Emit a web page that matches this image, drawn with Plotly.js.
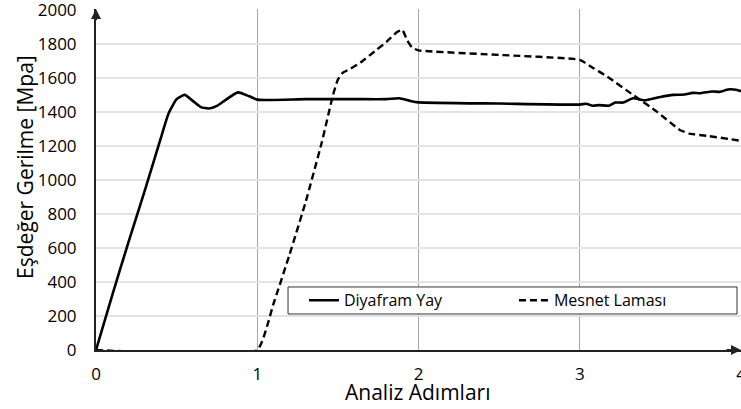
<!DOCTYPE html>
<html><head><meta charset="utf-8">
<script src="https://cdn.plot.ly/plotly-3.0.1.min.js"></script>
<style>html,body{margin:0;padding:0;background:#fff}#chart{width:741px;height:409px}</style>
</head><body><div id="chart"></div>
<script>
var diyX = [0, 0.1, 0.2, 0.3, 0.4, 0.45, 0.5, 0.55, 0.6, 0.65, 0.7, 0.75, 0.8, 0.88, 0.95, 1.0, 1.3, 1.6, 1.8, 1.88, 1.95, 2.0, 2.5, 3.0, 3.04, 3.08, 3.12, 3.18, 3.22, 3.27, 3.33, 3.4, 3.5, 3.58, 3.65, 3.7, 3.75, 3.82, 3.87, 3.92, 3.97, 4.0];
var diyY = [0, 320, 630, 930, 1240, 1390, 1475, 1500, 1465, 1428, 1420, 1435, 1468, 1515, 1492, 1472, 1475, 1475, 1475, 1480, 1464, 1456, 1449, 1443, 1448, 1436, 1440, 1436, 1455, 1455, 1480, 1468, 1488, 1500, 1502, 1512, 1510, 1520, 1518, 1532, 1530, 1522];
var mesX = [0, 1.0, 1.1, 1.2, 1.3, 1.4, 1.47, 1.5, 1.53, 1.58, 1.64, 1.74, 1.8, 1.865, 1.9, 1.93, 1.96, 2.0, 2.5, 3.0, 3.08, 3.17, 3.33, 3.48, 3.62, 3.68, 3.8, 4.0];
var mesY = [0, 0, 270, 560, 870, 1220, 1500, 1590, 1630, 1655, 1690, 1765, 1810, 1868, 1882, 1820, 1778, 1762, 1735, 1706, 1660, 1608, 1500, 1400, 1294, 1272, 1258, 1230];
var xTicks = [0, 1, 2, 3, 4];
var yTicks = [0, 200, 400, 600, 800, 1000, 1200, 1400, 1600, 1800, 2000];
var xTitle = 'Analiz Adımları';
var yTitle = 'Eşdeğer Gerilme [Mpa]';

var font = 'Open Sans, Noto Sans, sans-serif';
var traces = [
  {x: diyX, y: diyY, name: 'Diyafram Yay', mode: 'lines', line: {color: '#000', width: 2.6, shape: 'spline', smoothing: 0.5}, cliponaxis: false},
  {x: mesX, y: mesY, name: 'Mesnet Laması', mode: 'lines', line: {color: '#000', width: 2.4, dash: '7px,4px', shape: 'spline', smoothing: 0.4}, cliponaxis: false}
];
var layout = {
  width: 741, height: 409,
  margin: {l: 96, r: 0, t: 9, b: 59},
  paper_bgcolor: '#fff', plot_bgcolor: '#fff',
  font: {family: font, color: '#000', size: 16},
  showlegend: true,
  legend: {orientation: 'h', x: 0.3224, y: 0.1457, xanchor: 'left', yanchor: 'middle', bgcolor: 'rgba(0,0,0,0)', borderwidth: 0, entrywidth: 165, font: {size: 16, family: font}},
  xaxis: {range: [0, 4], tickvals: xTicks, ticktext: xTicks.map(String), ticklabeloverflow: 'allow', showgrid: true, gridcolor: '#a6a6a6', gridwidth: 1, zeroline: false, showline: true, linecolor: '#222', linewidth: 2, layer: 'below traces', ticks: 'outside', ticklen: 8, tickcolor: 'rgba(0,0,0,0)', tickfont: {size: 17}, fixedrange: true},
  yaxis: {range: [0, 2005], tickvals: yTicks, ticktext: yTicks.map(String), ticklabeloverflow: 'allow', showgrid: true, gridcolor: '#e3e3e3', gridwidth: 1.5, zeroline: false, showline: true, linecolor: '#222', linewidth: 2, layer: 'below traces', ticks: 'outside', ticklen: 14, tickcolor: 'rgba(0,0,0,0)', tickfont: {size: 17}, fixedrange: true},
  shapes: [
    {type: 'rect', xref: 'paper', yref: 'paper', x0: 0.2977, x1: 0.9938, y0: 0.1056, y1: 0.1848, line: {color: '#333', width: 1}, fillcolor: '#fff', layer: 'above'}
  ],
  annotations: [
    {x: 0, y: 2005, ax: 0, ay: 1930, xref: 'x', yref: 'y', axref: 'x', ayref: 'y', showarrow: true, arrowhead: 2, arrowsize: 1, arrowwidth: 2, arrowcolor: '#222', text: ''},
    {x: 4, y: 0, ax: 3.9, ay: 0, xref: 'x', yref: 'y', axref: 'x', ayref: 'y', showarrow: true, arrowhead: 2, arrowsize: 1, arrowwidth: 2, arrowcolor: '#222', text: ''},
    {text: xTitle, xref: 'paper', yref: 'paper', x: 0.499, y: -0.1232, xanchor: 'center', yanchor: 'middle', showarrow: false, font: {size: 21}},
    {text: yTitle, xref: 'paper', yref: 'paper', x: -0.110, y: 0.537, xanchor: 'center', yanchor: 'middle', textangle: -90, showarrow: false, font: {size: 21}}
  ]
};
Plotly.newPlot('chart', traces, layout, {displayModeBar: false, staticPlot: true});
</script></body></html>
